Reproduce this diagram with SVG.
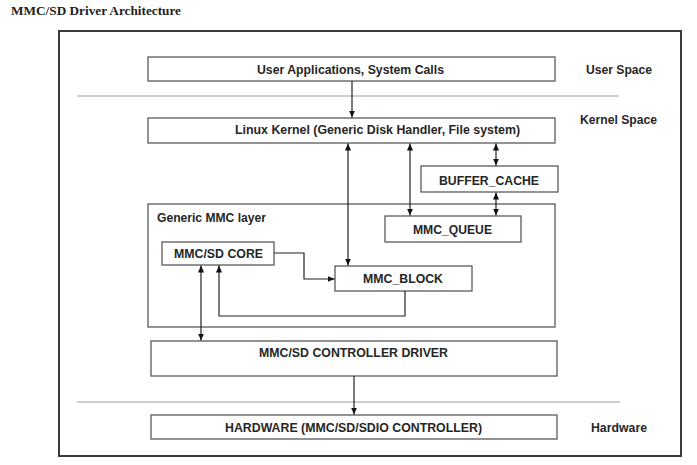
<svg xmlns="http://www.w3.org/2000/svg" width="697" height="465" viewBox="0 0 697 465">
<style>
.box{fill:#fff;stroke:#5a5a5a;stroke-width:1.3}
.lbl{font-family:"Liberation Sans",Arial,sans-serif;font-weight:bold;font-size:12px;fill:#262626;text-anchor:middle;dominant-baseline:central}
.side{font-family:"Liberation Sans",Arial,sans-serif;font-weight:bold;font-size:12px;fill:#262626;text-anchor:start;dominant-baseline:central}
.sep{stroke:#bdbdbd;stroke-width:1.5}
.con{fill:none;stroke:#222;stroke-width:1.2}
</style>
<defs>
<marker id="ah" markerUnits="userSpaceOnUse" markerWidth="8" markerHeight="7" refX="7" refY="3" orient="auto-start-reverse">
<path d="M0,0 L7,3 L0,6 z" fill="#111"/>
</marker>
</defs>
<rect width="697" height="465" fill="#fff"/>
<text x="11" y="15" font-family="'Liberation Serif','Times New Roman',serif" font-weight="bold" font-size="13" fill="#222" textLength="170" lengthAdjust="spacingAndGlyphs">MMC/SD Driver Architecture</text>
<rect id="frame" x="59" y="31" width="622" height="425" fill="none" stroke="#3a3a3a" stroke-width="2"/>
<g id="separators">
<line class="sep" x1="77" y1="96" x2="619" y2="96"/>
<line class="sep" x1="77" y1="402" x2="620" y2="402"/>
</g>
<g id="side-labels">
<text class="side" x="586" y="70" textLength="66" lengthAdjust="spacingAndGlyphs">User Space</text>
<text class="side" x="580" y="120" textLength="77" lengthAdjust="spacingAndGlyphs">Kernel Space</text>
<text class="side" x="591" y="428" textLength="56" lengthAdjust="spacingAndGlyphs">Hardware</text>
</g>
<g id="user-apps">
<rect class="box" x="148" y="57" width="407" height="24"/>
<text class="lbl" x="350.5" y="70" textLength="187" lengthAdjust="spacingAndGlyphs">User Applications, System Calls</text>
</g>
<g id="linux-kernel">
<rect class="box" x="148" y="118" width="407" height="25"/>
<text class="lbl" x="377.5" y="130" textLength="285" lengthAdjust="spacingAndGlyphs">Linux Kernel (Generic Disk Handler, File system)</text>
</g>
<g id="buffer-cache">
<rect class="box" x="421" y="166" width="137" height="26"/>
<text class="lbl" x="489" y="181" textLength="100" lengthAdjust="spacingAndGlyphs">BUFFER_CACHE</text>
</g>
<g id="generic-mmc-layer">
<rect class="box" x="148" y="204" width="407" height="123"/>
<text class="side" x="157" y="218" textLength="109" lengthAdjust="spacingAndGlyphs">Generic MMC layer</text>
</g>
<g id="mmc-queue">
<rect class="box" x="385" y="216" width="136" height="26"/>
<text class="lbl" x="452.5" y="230" textLength="79" lengthAdjust="spacingAndGlyphs">MMC_QUEUE</text>
</g>
<g id="mmc-sd-core">
<rect class="box" x="162" y="242" width="112" height="23"/>
<text class="lbl" x="218.5" y="254" textLength="89" lengthAdjust="spacingAndGlyphs">MMC/SD CORE</text>
</g>
<g id="mmc-block">
<rect class="box" x="335" y="266" width="137" height="25"/>
<text class="lbl" x="403" y="279" textLength="80" lengthAdjust="spacingAndGlyphs">MMC_BLOCK</text>
</g>
<g id="controller-driver">
<rect class="box" x="151" y="341" width="406" height="35"/>
<text class="lbl" x="353.5" y="353" textLength="189" lengthAdjust="spacingAndGlyphs">MMC/SD CONTROLLER DRIVER</text>
</g>
<g id="hardware">
<rect class="box" x="151" y="415" width="406" height="24"/>
<text class="lbl" x="353.5" y="428" textLength="257" lengthAdjust="spacingAndGlyphs">HARDWARE (MMC/SD/SDIO CONTROLLER)</text>
</g>
<g id="connectors">
<line class="con" x1="352" y1="81" x2="352" y2="117.5" marker-end="url(#ah)"/>
<line class="con" x1="496" y1="143.5" x2="496" y2="165.5" marker-start="url(#ah)" marker-end="url(#ah)"/>
<line class="con" x1="496" y1="192.5" x2="496" y2="215.5" marker-start="url(#ah)" marker-end="url(#ah)"/>
<line class="con" x1="410" y1="143.5" x2="410" y2="215.5" marker-start="url(#ah)" marker-end="url(#ah)"/>
<line class="con" x1="348" y1="143.5" x2="348" y2="265.5" marker-start="url(#ah)" marker-end="url(#ah)"/>
<path class="con" d="M274,253 H304 V279 H334.5" marker-end="url(#ah)"/>
<path class="con" d="M405,291 V316 H219 V265.5" marker-end="url(#ah)"/>
<line class="con" x1="201" y1="265.5" x2="201" y2="340.5" marker-start="url(#ah)" marker-end="url(#ah)"/>
<line class="con" x1="354" y1="376" x2="354" y2="414.5" marker-end="url(#ah)"/>
</g>
</svg>
